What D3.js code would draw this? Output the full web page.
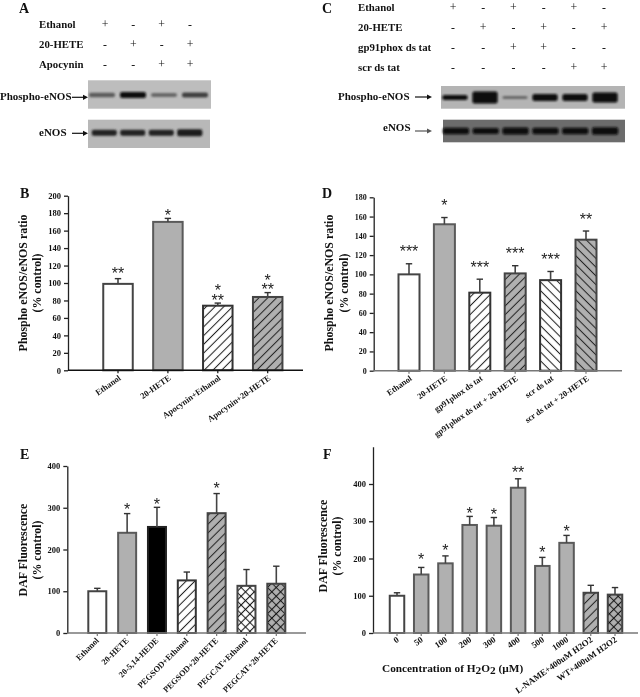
<!DOCTYPE html>
<html><head><meta charset="utf-8">
<script src="https://cdn.jsdelivr.net/npm/d3@7/dist/d3.min.js"></script>
<style>html,body{margin:0;padding:0;background:#fff}svg{display:block;filter:blur(0.35px)}text{font-family:"Liberation Serif",serif;font-weight:bold;fill:#111}</style>
</head><body><svg id="c" width="640" height="697"></svg>
<script>
// ---------- data ----------
const catB=["Ethanol","20-HETE","Apocynin+Ethanol","Apocynin+20-HETE"];
const valB=[99,170,74,84];
const errB=[105,174,77,89];
const fillB=["white","gray","hatch","hatchGray"];
const starB=[["**"],["*"],["*","**"],["*","**"]];

const catD=["Ethanol","20-HETE","gp91phox ds tat","gp91phox ds tat + 20-HETE","scr ds tat","scr ds tat + 20-HETE"];
const valD=[100,152,81,101,94,136];
const errD=[111,159,95,109,103,145];
const fillD=["white","gray","hatch","hatchGray","back","backGray"];
const starD=[["***"],["*"],["***"],["***"],["***"],["**"]];

const catE=["Ethanol","20-HETE","20-5,14-HEDE","PEGSOD+Ethanol","PEGSOD+20-HETE","PEGCAT+Ethanol","PEGCAT+20-HETE"];
const valE=[100,240,254,126,287,113,118];
const errE=[107,286,301,146,334,152,160];
const fillE=["white","gray","black","hatch","hatchGray","cross","crossGray"];
const starE=[[],["*"],["*"],[],["*"],[],[]];

const catF=["0","50","100","200","300","400","500","1000","L-NAME+400uM H2O2","WT+400uM H2O2"];
const valF=[100,157,187,290,288,390,180,242,108,103];
const errF=[108,176,207,313,310,414,203,262,128,122];
const fillF=["white","gray","gray","gray","gray","gray","gray","gray","hatchGray","crossGray"];
const starF=[[],["*"],["*"],["*"],["*"],["**"],["*"],["*"],[],[]];

const rowsA=["Ethanol","20-HETE","Apocynin"];
const signsA=[["+","-","+","-"],["-","+","-","+"],["-","-","+","+"]];
const rowsC=["Ethanol","20-HETE","gp91phox ds tat","scr ds tat"];
const signsC=[["+","-","+","-","+","-"],["-","+","-","+","-","+"],["-","-","+","+","-","-"],["-","-","-","-","+","+"]];

// band intensity (0-1) and thickness of each blot lane
const blotA1Dark=[0.55,1,0.48,0.7], blotA1Thick=[4.5,6,4,5];
const blotA2Dark=[0.85,0.85,0.85,0.9], blotA2Thick=[6,6,6,7];
const blotC1Dark=[1,1,0.45,1,1,1], blotC1Thick=[5,12,3,7,7,10];
const blotC2Dark=[1,1,1,1,1,1], blotC2Thick=[6.5,6,7,6.5,6.5,7.5];

// ---------- drawing ----------
const svg=d3.select("#c");
const defs=svg.append("defs");
function pat(id,bg,ang,s,cross){
  const p=defs.append("pattern").attr("id",id).attr("patternUnits","userSpaceOnUse")
    .attr("width",s).attr("height",s).attr("patternTransform",`rotate(${ang})`);
  p.append("rect").attr("width",s).attr("height",s).attr("fill",bg);
  p.append("line").attr("x1",0).attr("x2",s).attr("y1",s/2).attr("y2",s/2).attr("stroke","#222").attr("stroke-width",1.05);
  if(cross)p.append("line").attr("y1",0).attr("y2",s).attr("x1",s/2).attr("x2",s/2).attr("stroke","#111").attr("stroke-width",1.1);
}
const GR="#b0b0b0";
pat("hatch","#fff",-45,6.2);pat("hatchGray",GR,-45,6.2);
pat("back","#fff",45,6.2);pat("backGray",GR,45,6.2);
pat("cross","#fff",45,6.2,true);pat("crossGray",GR,45,6.2,true);
const fillOf=f=>f==="white"?"#fff":f==="gray"?GR:f==="black"?"#000":`url(#${f})`;
const strokeOf={white:"#444",gray:"#5a5a5a",black:"#222",hatch:"#333",hatchGray:"#444",back:"#333",backGray:"#444",cross:"#444",crossGray:"#444"};

function panel(o){
  const {cats,vals,errs,fills,stars,cx0,cxN,ax,xEnd,y0,yTop,yMax,ticks,bw,rot,starGap,axisCol,fs,dyLab,dxLab}=o;
  const step=(cxN-cx0)/(cats.length-1);
  const x=d3.scaleBand().domain(cats).range([cx0-step/2,cxN+step/2]);
  const y=d3.scaleLinear().domain([0,yMax]).range([y0,yTop]);
  const g=svg.append("g");
  const sw=o.barW||2;
  g.selectAll("rect.b").data(cats).join("rect").attr("class","b")
    .attr("x",d=>x(d)+x.bandwidth()/2-bw/2).attr("width",bw)
    .attr("y",(d,i)=>y(vals[i])).attr("height",(d,i)=>y0-y(vals[i]))
    .attr("fill",(d,i)=>fillOf(fills[i])).attr("stroke",(d,i)=>strokeOf[fills[i]]).attr("stroke-width",sw);
  // error bars
  cats.forEach((c,i)=>{
    const cx=x(c)+x.bandwidth()/2;
    g.append("line").attr("x1",cx).attr("x2",cx).attr("y1",y(vals[i])).attr("y2",y(errs[i])).attr("stroke","#444").attr("stroke-width",1.6);
    g.append("line").attr("x1",cx-3.2).attr("x2",cx+3.2).attr("y1",y(errs[i])).attr("y2",y(errs[i])).attr("stroke","#333").attr("stroke-width",1.4);
    const lines=stars[i], gap=Array.isArray(starGap)?starGap[i]:starGap;
    lines.forEach((s,k)=>{
      const yy=y(errs[i])-gap-(lines.length-1-k)*9.5;
      g.append("text").attr("x",cx).attr("y",yy+7.6).attr("text-anchor","middle")
       .style("font-family","Liberation Sans").style("font-weight","normal").style("font-size","16px").style("fill","#222").text(s);
    });
  });
  // axes
  const ya=d3.axisLeft(y).tickValues(ticks).tickSize(4).tickSizeOuter(0);
  const yg=g.append("g").attr("transform",`translate(${ax},0)`).call(ya);
  yg.selectAll("path,line").attr("stroke","#222").attr("stroke-width",1.3);
  yg.selectAll("text").style("font-size",(o.yfs||8.5)+"px");
  const xa=d3.axisBottom(x).tickSize(3).tickSizeOuter(0);
  const xg=g.append("g").attr("transform",`translate(0,${y0})`).call(xa);
  xg.select(".domain").remove();
  xg.selectAll("line").attr("stroke",axisCol).attr("stroke-width",1.2);
  xg.selectAll("text").attr("text-anchor","end").attr("dy",0).attr("y",0)
    .attr("transform",`translate(${dxLab},${dyLab}) rotate(${rot})`).style("font-size",fs+"px");
  g.append("line").attr("x1",ax).attr("x2",xEnd).attr("y1",y0).attr("y2",y0).attr("stroke",axisCol).attr("stroke-width",1.6);
}
panel({cats:catB,vals:valB,errs:errB,fills:fillB,stars:starB,cx0:118,cxN:267.7,ax:68,xEnd:303,y0:370.3,yTop:195.7,yMax:200,
  ticks:d3.range(0,201,20),bw:29.5,rot:-35,starGap:[7,5,5,5],axisCol:"#111",fs:8.5,dyLab:9,dxLab:3.5});
panel({cats:catD,vals:valD,errs:errD,fills:fillD,stars:starD,cx0:409,cxN:586,ax:373.7,xEnd:622,y0:370.7,yTop:197.3,yMax:180,
  ticks:d3.range(0,181,20),bw:21,rot:-35,starGap:14,axisCol:"#777",fs:8.4,dyLab:9,dxLab:3.5,yfs:8});
panel({cats:catE,vals:valE,errs:errE,fills:fillE,stars:starE,cx0:97.3,cxN:276.3,ax:67.3,xEnd:306,y0:633,yTop:466,yMax:400,
  ticks:[0,100,200,300,400],bw:18,rot:-45,starGap:[0,6,5,0,7,0,0],axisCol:"#777",fs:8.4,dyLab:8,dxLab:2});
panel({cats:catF,vals:valF,errs:errF,fills:fillF,stars:starF,cx0:397,cxN:615,ax:373,xEnd:638,y0:633,yTop:446.75,yMax:500,
  ticks:[0,100,200,300,400],bw:14.5,rot:-35,starGap:[0,10,7,5,5,8,7,6,0,0],axisCol:"#777",fs:8.8,dyLab:8,dxLab:2.5});

function txt(x,y,s,size,anchor,rot){
  const t=svg.append("text").attr("x",x).attr("y",y).style("font-size",size+"px").attr("text-anchor",anchor||"start").text(s);
  if(rot!=null)t.attr("transform",`rotate(${rot},${x},${y})`);
  return t;
}
// panel letters
[["A",19,12.6],["C",322,12.6],["B",20,198],["D",322,198],["E",20,459],["F",323,459]].forEach(a=>txt(a[1],a[2],a[0],14));
// axis titles
txt(27,283,"Phospho eNOS/eNOS ratio",11.9,"middle",-90);
txt(41,283,"(% control)",11.9,"middle",-90);
txt(333,283,"Phospho eNOS/eNOS ratio",11.9,"middle",-90);
txt(348,283,"(% control)",11.9,"middle",-90);
txt(27,550,"DAF Fluorescence",11.9,"middle",-90);
txt(41,550,"(% control)",11.9,"middle",-90);
txt(327,546,"DAF Fluorescence",11.9,"middle",-90);
txt(341,546,"(% control)",11.9,"middle",-90);
const cl=txt(382,672,"",11.3);
cl.append("tspan").text("Concentration of H");
cl.append("tspan").attr("dy",2).text("2");
cl.append("tspan").attr("dy",-2).text("O");
cl.append("tspan").attr("dy",2).text("2");
cl.append("tspan").attr("dy",-2).text(" (µM)");

// sign tables
function table(rows,signs,lx,base,rowStep,cols,size){
  rows.forEach((r,i)=>{
    txt(lx,base+i*rowStep,r,size);
    signs[i].forEach((s,j)=>{
      const t=txt(cols(j),base+i*rowStep,s,size+1,"middle");
      t.style("font-weight","normal");
    });
  });
}
const colA=d3.scalePoint().domain(d3.range(4)).range([105,190]);
const colC=d3.scalePoint().domain(d3.range(6)).range([453,604]);
table(rowsA,signsA,39,27.5,20.3,colA,10.8);
table(rowsC,signsC,358,10.7,20.2,colC,10.8);

// blots
const blur=defs.append("filter").attr("id","bl").attr("x","-20%").attr("y","-60%").attr("width","140%").attr("height","220%");
blur.append("feGaussianBlur").attr("stdDeviation","1.1");
function blot(x0,x1,yt,yb,bg,lx0,lx1,yc,dark,thick,wf){
  svg.append("rect").attr("x",x0).attr("y",yt).attr("width",x1-x0).attr("height",yb-yt).attr("fill",bg);
  const lane=d3.scaleBand().domain(d3.range(dark.length)).range([lx0,lx1]);
  const col=d3.scaleLinear().domain([0,1]).range([bg,"#0a0a0a"]);
  const g=svg.append("g").attr("filter","url(#bl)");
  g.selectAll("rect").data(dark).join("rect")
    .attr("x",(d,i)=>lane(i)+lane.bandwidth()*(1-wf)/2).attr("width",lane.bandwidth()*wf)
    .attr("y",(d,i)=>yc-thick[i]/2).attr("height",(d,i)=>thick[i]).attr("rx",2)
    .attr("fill",d=>col(d));
}
blot(88,211,80.3,108.7,"#bdbdbd",86.5,210.5,95,blotA1Dark,blotA1Thick,0.84);
blot(88,210,119.7,148,"#b8b8b8",90,204,132.7,blotA2Dark,blotA2Thick,0.88);
blot(441,625,86,108.7,"#b4b4b4",440,620,97.5,blotC1Dark,blotC1Thick,0.84);
blot(443,625,119.7,142.3,"#6c6c6c",441,620,131,blotC2Dark,blotC2Thick,0.88);

// arrows
function arrow(x1,x2,y,col){
  svg.append("line").attr("x1",x1).attr("x2",x2-3).attr("y1",y).attr("y2",y).attr("stroke",col).attr("stroke-width",1.2);
  svg.append("path").attr("d",`M${x2},${y}l-5,-2.6v5.2z`).attr("fill",col);
}
txt(0,100,"Phospho-eNOS",11);arrow(72,88,97.3,"#111");
txt(39,136,"eNOS",11);arrow(72,88,133.3,"#111");
txt(338,100,"Phospho-eNOS",11);arrow(415,432,97,"#111");
txt(383,131,"eNOS",11);arrow(415,432,131,"#555");
</script></body></html>
